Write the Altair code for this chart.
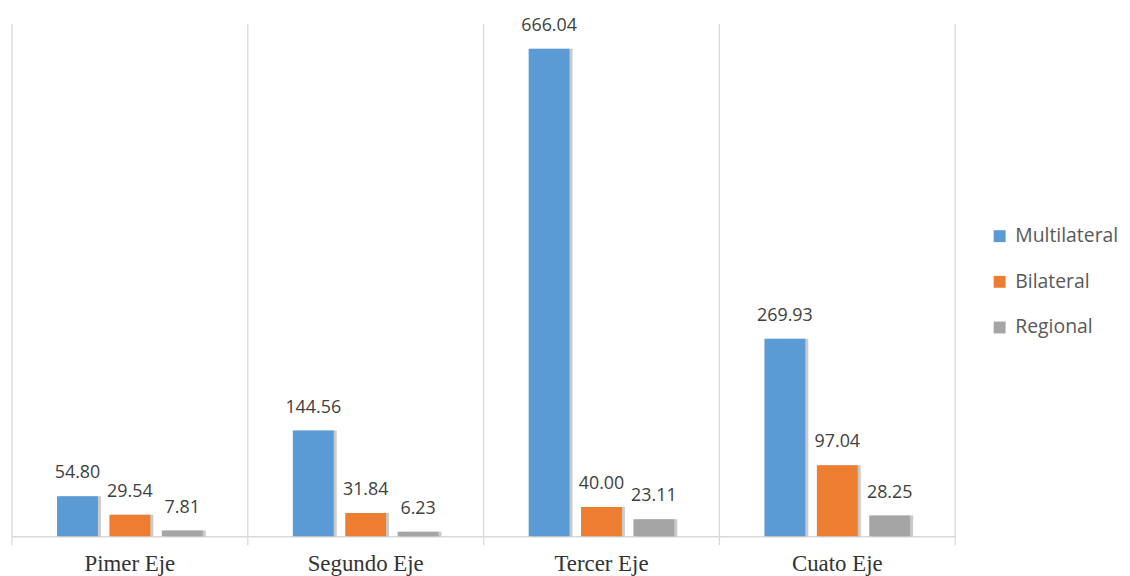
import altair as alt
import pandas as pd

categories = ["Pimer Eje", "Segundo Eje", "Tercer Eje", "Cuato Eje"]
series = ["Multilateral", "Bilateral", "Regional"]
multilateral = [54.80, 144.56, 666.04, 269.93]
bilateral = [29.54, 31.84, 40.00, 97.04]
regional = [7.81, 6.23, 23.11, 28.25]
colors = ["#5B9BD5", "#ED7D31", "#A5A5A5"]

rows = []
for i, c in enumerate(categories):
    for s, vals in zip(series, [multilateral, bilateral, regional]):
        rows.append({"cat": c, "serie": s, "valor": vals[i], "label": f"{vals[i]:.2f}"})
df = pd.DataFrame(rows)

W, H = 950, 516
BAND = W / len(categories)

xscale = alt.Scale(domain=categories, paddingInner=0, paddingOuter=0)
xoff = alt.Scale(domain=series, paddingInner=0.22, paddingOuter=0.86, range=[0, BAND])
xoff_shadow = alt.Scale(domain=series, paddingInner=0.22, paddingOuter=0.86,
                        range=[3, BAND + 3])
yscale = alt.Scale(domain=[0, 700], nice=False)

x_axis = alt.Axis(title=None, labelAngle=0, ticks=False, grid=False,
                  domain=True, domainColor="#D9D9D9", domainWidth=1.3,
                  labelFont="Liberation Serif", labelFontSize=23,
                  labelColor="#333333", labelPadding=16)


def X(**kw):
    return alt.X("cat:N", scale=xscale, sort=categories, axis=x_axis, **kw)


base = alt.Chart(df)

grid = alt.Chart(pd.DataFrame({"cat": categories})).mark_rule(
    color="#D9D9D9", strokeWidth=1.3
).encode(x=X(bandPosition=0), y=alt.value(0), y2=alt.value(H + 9))

grid_end = alt.Chart(pd.DataFrame({"cat": categories[-1:]})).mark_rule(
    color="#D9D9D9", strokeWidth=1.3
).encode(x=X(bandPosition=1), y=alt.value(0), y2=alt.value(H + 9))

shadow = base.mark_bar(color="#7a7a7a", opacity=0.4).encode(
    x=X(),
    xOffset=alt.XOffset("serie:N", scale=xoff_shadow, sort=series),
    y=alt.Y("valor:Q", scale=yscale, axis=None),
)

bars = base.mark_bar().encode(
    x=X(),
    xOffset=alt.XOffset("serie:N", scale=xoff, sort=series),
    y=alt.Y("valor:Q", scale=yscale, axis=None),
    color=alt.Color("serie:N", sort=series,
                    scale=alt.Scale(domain=series, range=colors),
                    legend=alt.Legend(title=None, orient="none", legendX=985, legendY=204,
                                      symbolType="square", symbolSize=144,
                                      symbolStrokeWidth=0,
                                      labelFont="Open Sans", labelFontSize=19.5,
                                      labelColor="#595959", rowPadding=25,
                                      labelOffset=6)),
)

labels = base.mark_text(font="Open Sans", fontSize=18, color="#404040",
                        baseline="bottom", dy=-14).encode(
    x=X(),
    xOffset=alt.XOffset("serie:N", scale=xoff, sort=series),
    y=alt.Y("valor:Q", scale=yscale, axis=None),
    text="label:N",
)

front = alt.layer(bars, labels)

chart = alt.layer(grid, grid_end, shadow, front).resolve_scale(
    xOffset="independent"
).properties(
    width=W, height=H,
    autosize=alt.AutoSizeParams(type="none"),
    padding={"left": 4, "top": 14, "right": 168, "bottom": 38},
).configure_view(stroke=None)

chart.save("out.html", embed_options={"renderer": "svg", "actions": False})
